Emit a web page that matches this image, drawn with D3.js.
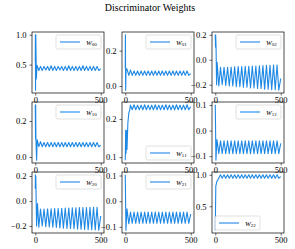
<!DOCTYPE html>
<html>
<head>
<meta charset="utf-8">
<script src="https://cdn.jsdelivr.net/npm/d3@7"></script>
<style>
  body { margin: 0; background: #fff; }
  text { font-family: "Liberation Serif", "DejaVu Serif", serif; fill: #000; }
</style>
</head>
<body>
<svg id="chart" width="295" height="249"></svg>
<script>
// steps where the oscillation turns (peak, trough, peak, ...)
var tailSteps = [40, 53, 67, 80, 94, 107, 121, 134, 148, 161, 175, 188, 202, 215, 229, 242, 256, 269,
                 283, 296, 310, 323, 337, 350, 364, 377, 391, 404, 418, 431, 445, 458, 472, 485, 500];

// first steps of each weight, as [step, value]
var w00Head = [[0, 0.55], [1, 1.0], [2, 0.07], [4, 1.0], [8, 0.26], [13, 0.49], [27, 0.40]];
var w01Head = [[0, 0.1], [1, 0.29], [3, -0.024], [6, 0.1], [13, 0.095], [27, 0.06]];
var w02Head = [[0, 0.2], [2, 0.1], [3, 0.2], [6, 0.1], [10, -0.2], [14, -0.02], [27, -0.21]];
var w10Head = [[0, 0.29], [2, 0.1], [3, 0.29], [5, 0.1], [10, -0.018], [15, 0.095], [27, 0.058]];
var w11Head = [[0, 0.092], [3, 0.17], [6, 0.11], [9, 0.17], [13, 0.12], [20, 0.19], [27, 0.215], [33, 0.222]];
var w12Head = [[0, 0.101], [5, -0.116], [13, -0.035], [27, -0.09]];
var w20Head = [[0, 0.1], [1, 0.21], [2, 0.1], [4, 0.2], [10, -0.2], [17, -0.02], [27, -0.21]];
var w21Head = [[0, 0.103], [5, -0.113], [13, -0.03], [27, -0.088]];
var w22Head = [[0, 0.12], [4, 0.82], [13, 0.9], [20, 0.92], [27, 0.95]];

// values at tailSteps
var w00Tail = [0.47, 0.40, 0.47, 0.41, 0.47, 0.40, 0.48, 0.40, 0.47, 0.40,
               0.47, 0.41, 0.47, 0.40, 0.47, 0.40, 0.48, 0.40, 0.47, 0.40,
               0.47, 0.40, 0.47, 0.40, 0.48, 0.40, 0.47, 0.40, 0.47, 0.40,
               0.47, 0.40, 0.47, 0.40, 0.43];
var w01Tail = [0.09, 0.06, 0.085, 0.06, 0.085, 0.06, 0.085, 0.06, 0.085, 0.06,
               0.085, 0.06, 0.085, 0.06, 0.085, 0.06, 0.085, 0.06, 0.085, 0.06,
               0.085, 0.06, 0.085, 0.06, 0.085, 0.06, 0.085, 0.06, 0.085, 0.06,
               0.085, 0.06, 0.085, 0.06, 0.07];
var w02Tail = [-0.06, -0.20, -0.06, -0.205, -0.06, -0.21, -0.058, -0.21, -0.057, -0.215,
               -0.055, -0.215, -0.055, -0.22, -0.053, -0.22, -0.052, -0.225, -0.05, -0.225,
               -0.05, -0.23, -0.048, -0.23, -0.047, -0.235, -0.045, -0.235, -0.045, -0.24,
               -0.043, -0.24, -0.042, -0.244, -0.15];
var w10Tail = [0.085, 0.057, 0.08, 0.057, 0.08, 0.057, 0.08, 0.057, 0.08, 0.057,
               0.08, 0.057, 0.08, 0.057, 0.08, 0.057, 0.08, 0.057, 0.08, 0.057,
               0.08, 0.057, 0.08, 0.057, 0.08, 0.057, 0.08, 0.057, 0.08, 0.057,
               0.08, 0.057, 0.08, 0.057, 0.065];
var w11Tail = [0.236, 0.224, 0.237, 0.224, 0.236, 0.224, 0.236, 0.224, 0.237, 0.224,
               0.236, 0.224, 0.236, 0.224, 0.237, 0.224, 0.236, 0.224, 0.236, 0.224,
               0.237, 0.224, 0.236, 0.224, 0.236, 0.224, 0.237, 0.224, 0.236, 0.224,
               0.236, 0.224, 0.237, 0.224, 0.232];
var w12Tail = [-0.04, -0.09, -0.04, -0.09, -0.04, -0.09, -0.04, -0.09, -0.04, -0.09,
               -0.04, -0.09, -0.04, -0.09, -0.04, -0.09, -0.04, -0.09, -0.04, -0.09,
               -0.04, -0.09, -0.04, -0.09, -0.04, -0.09, -0.04, -0.09, -0.04, -0.09,
               -0.04, -0.09, -0.04, -0.09, -0.05];
var w20Tail = [-0.065, -0.20, -0.065, -0.205, -0.063, -0.207, -0.062, -0.21, -0.06, -0.212,
               -0.06, -0.215, -0.058, -0.217, -0.057, -0.22, -0.056, -0.22, -0.055, -0.222,
               -0.054, -0.225, -0.053, -0.225, -0.052, -0.228, -0.052, -0.23, -0.051, -0.23,
               -0.05, -0.232, -0.05, -0.234, -0.12];
var w21Tail = [-0.042, -0.086, -0.042, -0.086, -0.042, -0.086, -0.042, -0.086, -0.042, -0.086,
               -0.042, -0.086, -0.042, -0.086, -0.042, -0.086, -0.042, -0.086, -0.042, -0.086,
               -0.042, -0.086, -0.042, -0.086, -0.042, -0.086, -0.042, -0.086, -0.042, -0.086,
               -0.042, -0.086, -0.042, -0.086, -0.05];
var w22Tail = [1.0, 0.945, 1.0, 0.945, 1.0, 0.945, 1.0, 0.945, 1.0, 0.945,
               1.0, 0.945, 1.0, 0.945, 1.0, 0.945, 1.0, 0.945, 1.0, 0.945,
               1.0, 0.945, 1.0, 0.945, 1.0, 0.945, 1.0, 0.945, 1.0, 0.945,
               1.0, 0.945, 1.0, 0.945, 0.97];

var xTicks = [0, 500];
var w00Ticks = [0.5, 1.0];
var w01Ticks = [0.0, 0.2];
var w02Ticks = [-0.2, 0.0, 0.2];
var w10Ticks = [0.0, 0.2];
var w11Ticks = [0.1, 0.2];
var w12Ticks = [-0.1, 0.0, 0.1];
var w20Ticks = [-0.2, 0.0, 0.2];
var w21Ticks = [-0.1, 0.0, 0.1];
var w22Ticks = [0.5, 1.0];

var panels = [
  { sub: "00", head: w00Head, tail: w00Tail, ticks: w00Ticks, loc: "ur" },
  { sub: "01", head: w01Head, tail: w01Tail, ticks: w01Ticks, loc: "ur" },
  { sub: "02", head: w02Head, tail: w02Tail, ticks: w02Ticks, loc: "ur" },
  { sub: "10", head: w10Head, tail: w10Tail, ticks: w10Ticks, loc: "ur" },
  { sub: "11", head: w11Head, tail: w11Tail, ticks: w11Ticks, loc: "lr" },
  { sub: "12", head: w12Head, tail: w12Tail, ticks: w12Ticks, loc: "ur" },
  { sub: "20", head: w20Head, tail: w20Tail, ticks: w20Ticks, loc: "ur" },
  { sub: "21", head: w21Head, tail: w21Tail, ticks: w21Ticks, loc: "ur" },
  { sub: "22", head: w22Head, tail: w22Tail, ticks: w22Ticks, loc: "ll" }
];

var lineColor = "#1e88e5";
var svg = d3.select("#chart");

svg.append("text")
    .attr("x", 150)
    .attr("y", 11)
    .attr("text-anchor", "middle")
    .style("font-size", "10px")
    .text("Discriminator Weights");

var w = 72, h = 61;

panels.forEach(function(p, i) {
  var left = 32 + (i % 3) * 90,
      top = 32 + Math.floor(i / 3) * 70;

  var pts = p.head.concat(tailSteps.map(function(s, k) { return [s, p.tail[k]]; }));

  // matplotlib style 5% margins
  var xe = d3.extent(pts, function(d) { return d[0]; }),
      ye = d3.extent(pts, function(d) { return d[1]; });
  var xpad = (xe[1] - xe[0]) * 0.05,
      ypad = (ye[1] - ye[0]) * 0.05;

  var x = d3.scaleLinear().domain([xe[0] - xpad, xe[1] + xpad]).range([0, w]);
  var y = d3.scaleLinear().domain([ye[0] - ypad, ye[1] + ypad]).range([h, 0]);

  var g = svg.append("g").attr("transform", "translate(" + left + "," + top + ")");

  g.append("path")
      .datum(pts)
      .attr("fill", "none")
      .attr("stroke", lineColor)
      .attr("stroke-width", 1.1)
      .attr("stroke-linejoin", "round")
      .attr("d", d3.line()
          .x(function(d) { return x(d[0]); })
          .y(function(d) { return y(d[1]); }));

  var xAxis = g.append("g")
      .attr("transform", "translate(0," + h + ")")
      .call(d3.axisBottom(x).tickValues(xTicks).tickSize(2.5).tickPadding(1.5).tickFormat(d3.format("d")));
  var yAxis = g.append("g")
      .call(d3.axisLeft(y).tickValues(p.ticks).tickSize(2.5).tickPadding(3).tickFormat(d3.format(".1f")));

  [xAxis, yAxis].forEach(function(a) {
    a.select(".domain").remove();
    a.selectAll("line").attr("stroke", "#000").attr("stroke-width", 0.6);
    a.selectAll("text")
        .style("font-family", "'Liberation Serif', 'DejaVu Serif', serif")
        .style("font-size", "8.5px")
        .attr("fill", "#000");
  });

  g.append("rect")
      .attr("width", w)
      .attr("height", h)
      .attr("fill", "none")
      .attr("stroke", "#000")
      .attr("stroke-width", 0.7);

  // legend
  var lw = 45, lh = 14;
  var lx = p.loc == "ll" ? 3 : w - 3 - lw,
      ly = p.loc == "ur" ? 3 : h - 3 - lh;
  var lg = g.append("g").attr("transform", "translate(" + lx + "," + ly + ")");
  lg.append("rect")
      .attr("width", lw)
      .attr("height", lh)
      .attr("rx", 1.5)
      .attr("fill", "#fff")
      .attr("fill-opacity", 0.8)
      .attr("stroke", "#ccc")
      .attr("stroke-width", 0.6);
  lg.append("line")
      .attr("x1", 4).attr("x2", 24)
      .attr("y1", lh / 2).attr("y2", lh / 2)
      .attr("stroke", lineColor)
      .attr("stroke-width", 1.1);
  var lt = lg.append("text")
      .attr("x", 30)
      .attr("y", lh / 2 + 2.5)
      .style("font-size", "7px");
  lt.append("tspan").style("font-style", "italic").text("W");
  lt.append("tspan").attr("dy", 1.5).style("font-size", "5px").text(p.sub);
});
</script>
</body>
</html>
